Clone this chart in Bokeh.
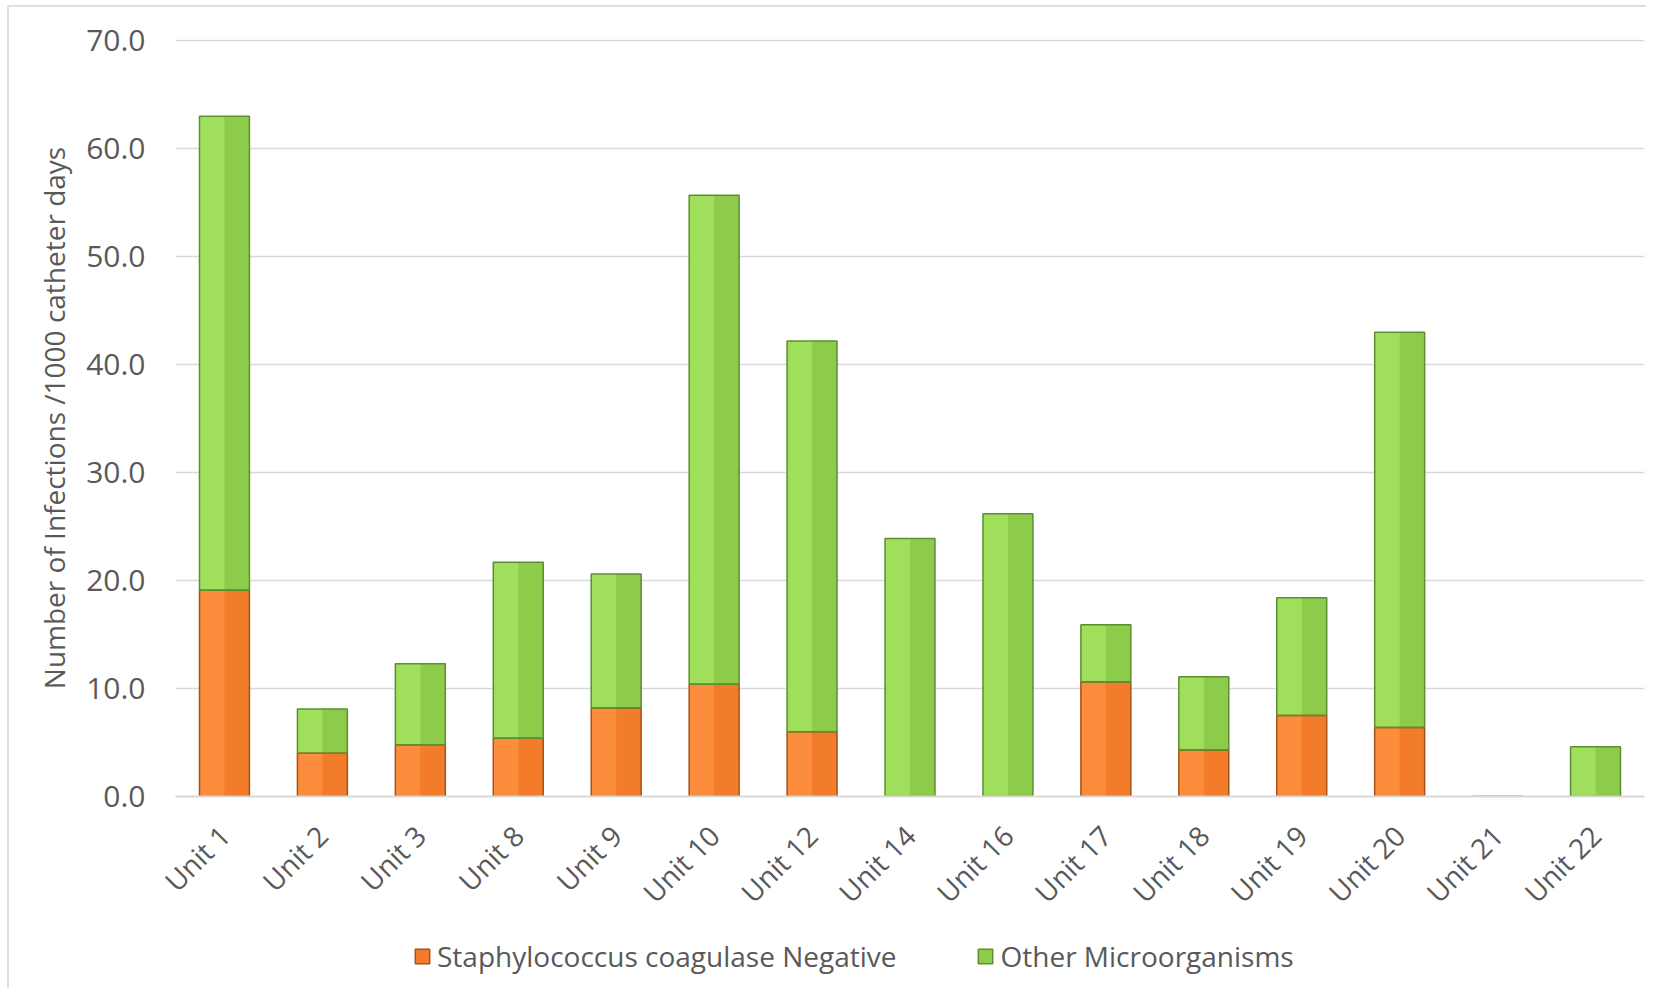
import math
from bokeh.plotting import figure
from bokeh.layouts import column
from bokeh.models import Legend, LegendItem, ColumnDataSource, Range1d, NumeralTickFormatter
from bokeh.transform import dodge
from bokeh.embed import file_html
from bokeh.resources import INLINE

units = ["Unit 1", "Unit 2", "Unit 3", "Unit 8", "Unit 9", "Unit 10", "Unit 12", "Unit 14",
         "Unit 16", "Unit 17", "Unit 18", "Unit 19", "Unit 20", "Unit 21", "Unit 22"]
staph = [19.1, 4.0, 4.8, 5.4, 8.2, 10.4, 6.0, 0.0, 0.0, 10.6, 4.3, 7.5, 6.4, 0.0, 0.0]
other = [43.9, 4.1, 7.5, 16.3, 12.4, 45.3, 36.2, 23.9, 26.2, 5.3, 6.8, 10.9, 36.6, 0.0, 4.6]
series = ["Staphylococcus coagulase Negative", "Other Microorganisms"]
y_ticks = [0, 10, 20, 30, 40, 50, 60, 70]

FONT = "Open Sans"
TXT = "#595959"
BAR_W = 0.51
FILL_DARK = ["#F27C2A", "#8DCB4B"]
FILL_LIGHT = ["#FC8D3C", "#A0DF5C"]
EDGE = ["#A5531B", "#5E8E32"]

src = ColumnDataSource(dict(units=units, staph=staph, other=other))

p = figure(x_range=units, y_range=Range1d(0, 70.12), frame_width=1469, frame_height=757,
           output_backend="svg", toolbar_location=None,
           min_border_left=166, min_border_right=2, min_border_top=32, min_border_bottom=0)
p.outline_line_color = None
p.border_fill_color = "white"

# right-half (darker) tone over the full bar
p.vbar_stack(["staph", "other"], x="units", width=BAR_W, source=src,
             fill_color=FILL_DARK, line_color=None)
# left-half lighter tone
p.vbar_stack(["staph", "other"], x=dodge("units", -BAR_W / 4, range=p.x_range),
             width=BAR_W / 2, source=src, fill_color=FILL_LIGHT, line_color=None)
# outlines
p.vbar_stack(["staph", "other"], x="units", width=BAR_W, source=src,
             fill_alpha=0, line_color=EDGE, line_width=1.5)

p.xgrid.grid_line_color = None
p.ygrid.grid_line_color = "#d9d9d9"
p.ygrid.grid_line_width = 1.5

p.yaxis.ticker = y_ticks
p.yaxis.formatter = NumeralTickFormatter(format="0.0")
p.yaxis.axis_line_color = None
p.yaxis.major_tick_line_color = None
p.yaxis.minor_tick_line_color = None
p.yaxis.major_tick_out = 0
p.yaxis.major_label_standoff = 30
p.yaxis.major_label_text_font = FONT
p.yaxis.major_label_text_font_size = "30px"
p.yaxis.major_label_text_color = TXT
p.yaxis.axis_label = "Number of Infections /1000 catheter days"
p.yaxis.axis_label_text_font = FONT
p.yaxis.axis_label_text_font_size = "28px"
p.yaxis.axis_label_text_font_style = "normal"
p.yaxis.axis_label_text_color = TXT
p.yaxis.axis_label_standoff = 10

p.xaxis.axis_line_color = "#d9d9d9"
p.xaxis.axis_line_width = 2
p.xaxis.major_tick_line_color = None
p.xaxis.minor_tick_line_color = None
p.xaxis.major_tick_out = 0
p.xaxis.major_label_standoff = 34
p.xaxis.major_label_orientation = math.pi / 4
p.xaxis.major_label_text_font = FONT
p.xaxis.major_label_text_font_size = "28px"
p.xaxis.major_label_text_color = TXT

# legend strip below the chart (its renderers hold one point outside the view)
lf = figure(width=1637, height=62, x_range=Range1d(0, 1), y_range=Range1d(0, 1),
            output_backend="svg", toolbar_location=None,
            x_axis_location=None, y_axis_location=None,
            min_border_left=0, min_border_right=0, min_border_top=0, min_border_bottom=0)
lf.outline_line_color = None
lf.grid.grid_line_color = None
hidden = ColumnDataSource(dict(x=[5.0], top=[0.0]))
lr = [lf.vbar(x="x", top="top", width=0.1, source=hidden,
              fill_color=FILL_DARK[i], line_color=EDGE[i], line_width=1.5) for i in range(2)]
legend = Legend(items=[LegendItem(label=series[i], renderers=[lr[i]]) for i in range(2)],
                orientation="horizontal", location=(238, 13),
                label_text_font=FONT, label_text_font_size="28px", label_text_color=TXT,
                glyph_width=18, glyph_height=18, spacing=80, label_standoff=6,
                border_line_color=None, background_fill_alpha=0, margin=0, padding=0)
lf.add_layout(legend)

layout = column(p, lf, spacing=0)
layout.styles = {"margin-left": "7px", "margin-top": "5px",
                 "border-left": "2px solid #dedede", "border-top": "2px solid #dedede"}

open("out.html", "w").write(file_html(layout, INLINE))
